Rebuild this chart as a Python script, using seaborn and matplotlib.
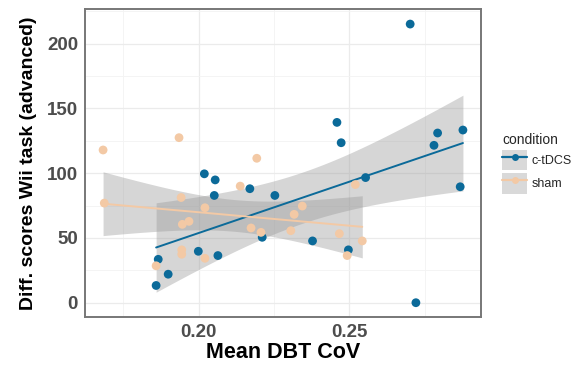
import numpy as np
import pandas as pd
import matplotlib
matplotlib.use("Agg")
import matplotlib.pyplot as plt
import seaborn as sns
from matplotlib.lines import Line2D
from matplotlib.patches import Patch
from matplotlib.legend_handler import HandlerTuple

# ---- data ----
ctdcs_x = [0.2702, 0.2459, 0.2473, 0.2793, 0.2781, 0.2877, 0.2554, 0.2170, 0.2253,
           0.2211, 0.2378, 0.2497, 0.2868, 0.2721, 0.2019, 0.2055, 0.2052, 0.1999,
           0.2064, 0.1866, 0.1899, 0.1859]
ctdcs_y = [215.1, 139.2, 123.5, 131.0, 121.5, 133.3, 96.6, 88.0, 82.8,
           50.5, 47.7, 40.8, 89.5, 0.0, 99.5, 94.8, 82.8, 39.7,
           36.4, 33.5, 22.0, 13.3]
sham_x = [0.1683, 0.1935, 0.2193, 0.1687, 0.1942, 0.2021, 0.2138, 0.1946, 0.1968,
          0.2174, 0.2207, 0.2317, 0.2344, 0.2306, 0.1944, 0.1944, 0.2021, 0.1859,
          0.2467, 0.2520, 0.2543, 0.2493]
sham_y = [117.9, 127.4, 111.5, 76.9, 81.2, 73.3, 90.0, 60.5, 62.8,
          57.7, 54.3, 68.2, 74.6, 55.6, 40.8, 37.4, 34.3, 28.5,
          53.3, 91.2, 47.7, 36.4]
conditions = ["c-tDCS", "sham"]
colors = {"c-tDCS": "#0B6A99", "sham": "#F3C9A5"}
x_ticks = [0.20, 0.25]
y_ticks = [0, 50, 100, 150, 200]

df = pd.DataFrame({
    "x": ctdcs_x + sham_x,
    "y": ctdcs_y + sham_y,
    "condition": ["c-tDCS"] * len(ctdcs_x) + ["sham"] * len(sham_x),
})

sns.set_theme(style="whitegrid")
plt.rcParams["font.family"] = ["Liberation Sans", "DejaVu Sans"]

fig = plt.figure(figsize=(5.84, 3.67), dpi=100)
ax = fig.add_axes([85 / 584, 1 - 316.7 / 367, (481.3 - 85) / 584, (316.7 - 9.3) / 367])

T975 = 2.086  # t quantile, df = 20

for cond in conditions:
    sub = df[df.condition == cond]
    x = sub.x.to_numpy(); y = sub.y.to_numpy()
    n = len(x)
    b, a = np.polyfit(x, y, 1)
    grid = np.linspace(x.min(), x.max(), 80)
    fit = a + b * grid
    resid = y - (a + b * x)
    s = np.sqrt(np.sum(resid ** 2) / (n - 2))
    se = s * np.sqrt(1 / n + (grid - x.mean()) ** 2 / np.sum((x - x.mean()) ** 2))
    ax.fill_between(grid, fit - T975 * se, fit + T975 * se, color="#999999",
                    alpha=0.4, linewidth=0, zorder=2)
    sns.regplot(data=sub, x="x", y="y", ci=None, scatter=False, ax=ax,
                line_kws=dict(color=colors[cond], lw=1.4, zorder=3))

for cond in conditions:
    sub = df[df.condition == cond]
    sns.scatterplot(data=sub, x="x", y="y", color=colors[cond], s=40,
                    edgecolor="none", ax=ax, zorder=4, legend=False)

ax.set_xlim(0.1623, 0.2938)
ax.set_ylim(-10.8, 226.5)
ax.set_xticks(x_ticks)
ax.set_xticklabels([f"{v:.2f}" for v in x_ticks])
ax.set_yticks(y_ticks)
ax.set_xticks([0.175, 0.225, 0.275], minor=True)
ax.set_yticks([25, 75, 125, 175, 225], minor=True)
ax.grid(which="major", color="#EBEBEB", lw=0.9)
ax.grid(which="minor", color="#F3F3F3", lw=0.6)
ax.set_axisbelow(True)
for sp in ax.spines.values():
    sp.set_color("#777777"); sp.set_linewidth(1.4)
ax.tick_params(axis="both", which="major", length=3, width=0.8, color="#555555",
               labelsize=13.5, labelcolor="#4D4D4D", pad=2)
ax.tick_params(axis="both", which="minor", length=0)
for lab in ax.get_xticklabels() + ax.get_yticklabels():
    lab.set_fontweight("bold")
ax.set_xlabel("Mean DBT CoV", fontsize=15.5, fontweight="bold", color="black", labelpad=1)
ax.set_ylabel("Diff. scores Wii task (advanced)", fontsize=14, fontweight="bold",
              color="black", labelpad=7)

handles = []
for cond in conditions:
    handles.append((Patch(facecolor="#D9D9D9", edgecolor="none"),
                    Line2D([], [], color=colors[cond], lw=1.6, marker="o",
                           markersize=5, markeredgecolor="none")))
leg = fig.legend(handles, conditions, title="condition", loc="upper left",
                 bbox_to_anchor=(497 / 584, 1 - 128 / 367), frameon=False,
                 handler_map={tuple: HandlerTuple(ndivide=1)}, fontsize=9,
                 title_fontsize=10, handlelength=2.0, handleheight=2.1,
                 labelspacing=0.25, handletextpad=0.4, borderaxespad=0)
leg._legend_box.align = "left"

fig.savefig("out.png", dpi=100)
